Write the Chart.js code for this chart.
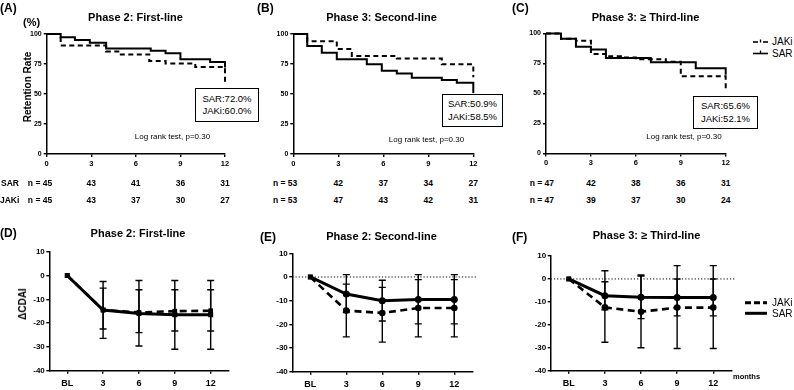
<!DOCTYPE html>
<html><head><meta charset="utf-8">
<script src="https://cdn.jsdelivr.net/npm/chart.js@4.4.1/dist/chart.umd.min.js"></script>
<style>
html,body{margin:0;padding:0;background:#fff;}
#root{position:relative;width:794px;height:390px;overflow:hidden;background:#fff;font-family:"Liberation Sans",Arial,sans-serif;color:#000;}
canvas{position:absolute;}
.t{position:absolute;white-space:nowrap;line-height:1;}
.box{position:absolute;border:1.5px solid #000;box-sizing:border-box;display:flex;flex-direction:column;justify-content:center;align-items:center;font-size:9.5px;line-height:12.5px;background:#fff;}
svg{position:absolute;}
</style></head><body><div id="root"></div>
<script>
// ---------------- DATA ----------------
const kmMonths = [0, 3, 6, 9, 12];
// Kaplan-Meier retention (%), step times in months
const A_SAR_t  = [0, 0.94, 1.9, 2.9, 4.0, 7.0, 8.0, 9.0, 11.0, 12.0];
const A_SAR_s  = [100, 97.2, 95, 92.8, 88, 86, 84, 79, 76.7, 72.0];
const A_JAKi_t = [0, 0.94, 4.0, 4.9, 6.9, 8.0, 10.0, 12.0];
const A_JAKi_s = [100, 90.5, 85.5, 83, 77.5, 75.5, 72.5, 60.0];
const B_SAR_t  = [0, 0.93, 1.9, 2.9, 4.9, 5.9, 6.9, 7.9, 9.9, 10.9, 12];
const B_SAR_s  = [100, 90, 84.4, 79, 74.7, 69.4, 67, 63.6, 61.7, 59.4, 50.9];
const B_JAKi_t = [0, 0.93, 2.9, 3.9, 6.9, 9.9, 12];
const B_JAKi_s = [100, 94, 87.5, 81.7, 79.5, 74.7, 64];
const C_SAR_t  = [0, 1, 2, 3, 4, 7, 10, 12];
const C_SAR_s  = [100, 95.6, 88.9, 86.7, 79.5, 76, 71, 65.6];
const C_JAKi_t = [0, 1, 2, 3, 4, 5, 6, 8, 9, 12];
const C_JAKi_s = [100, 95.6, 93.9, 83, 81, 80, 78.6, 76.4, 64.4, 52.1];
// numbers at risk
const A_risk_SAR = [45, 43, 41, 36, 31], A_risk_JAKi = [45, 43, 37, 30, 27];
const B_risk_SAR = [53, 42, 37, 34, 27], B_risk_JAKi = [53, 47, 43, 42, 31];
const C_risk_SAR = [47, 42, 38, 36, 31], C_risk_JAKi = [47, 39, 37, 30, 24];
// final retention labels
const A_final = ['SAR:72.0%', 'JAKi:60.0%'];
const B_final = ['SAR:50.9%', 'JAKi:58.5%'];
const C_final = ['SAR:65.6%', 'JAKi:52.1%'];
// Delta CDAI (mean, error bar low / high)
const visits = ['BL', '3', '6', '9', '12'];
const D_SAR = [0, -14.5, -16, -16.5, -16.5];
const D_SAR_lo = [null, -26.4, -29.6, -31, -31], D_SAR_hi = [null, -2.5, -2.1, -2.1, -2.1];
const D_JAKi = [0, -14.5, -15.5, -15, -14.8];
const D_JAKi_lo = [null, -22.5, -24, -23.3, -23.3], D_JAKi_hi = [null, -5.3, -6, -6, -6];
const E_SAR = [0, -7.2, -10, -9.5, -9.5];
const E_SAR_lo = [null, -15, -18.6, -19.8, -19.8], E_SAR_hi = [null, 1, -1.4, 1, 1];
const E_JAKi = [0, -14.2, -15.2, -13.1, -13.1];
const E_JAKi_lo = [null, -25.3, -27.5, -25.3, -25.3], E_JAKi_hi = [null, -3, -4.4, -1.1, -1.1];
const F_SAR = [0, -7.3, -8, -8.1, -8.1];
const F_SAR_lo = [null, -13.4, -17.3, -16.1, -16.1], F_SAR_hi = [null, -1.2, 1.3, 0, 0];
const F_JAKi = [0, -12.4, -14.3, -12.5, -12.5];
const F_JAKi_lo = [null, -27.6, -30, -30.3, -30.3], F_JAKi_hi = [null, 3.6, 1.7, 5.8, 5.8];

// ---------------- HELPERS ----------------
const root = document.getElementById('root');
const FONT = '"Liberation Sans", Arial, sans-serif';
const NARROW = '"Liberation Sans Narrow", "Liberation Sans", Arial, sans-serif';
function T(x, y, s, o = {}) {
  const d = document.createElement('div');
  d.className = 't';
  d.textContent = s;
  d.style.left = x + 'px'; d.style.top = y + 'px';
  d.style.fontSize = (o.size || 10) + 'px';
  if (o.bold) d.style.fontWeight = 'bold';
  if (o.family) d.style.fontFamily = o.family;
  const a = o.anchor || 'c';
  const tx = a === 'l' ? '0' : a === 'r' ? '-100%' : '-50%';
  d.style.transform = `translate(${tx},-50%)` + (o.rot ? ' rotate(-90deg)' : '');
  root.appendChild(d);
  return d;
}
function box(l, t, w, h, lines) {
  const d = document.createElement('div');
  d.className = 'box';
  d.style.left = l + 'px'; d.style.top = t + 'px'; d.style.width = w + 'px'; d.style.height = h + 'px';
  lines.forEach(s => { const e = document.createElement('div'); e.textContent = s; d.appendChild(e); });
  root.appendChild(d);
}
function mkCanvas(l, t, w, h) {
  const c = document.createElement('canvas');
  c.width = w; c.height = h;
  c.style.left = l + 'px'; c.style.top = t + 'px'; c.style.width = w + 'px'; c.style.height = h + 'px';
  root.appendChild(c);
  return c;
}
const errPlugin = {
  id: 'errbars',
  afterDatasetsDraw(chart) {
    const ctx = chart.ctx, xs = chart.scales.x, ys = chart.scales.y;
    chart.data.datasets.forEach(ds => {
      if (!ds.errLo) return;
      ds.errLo.forEach((lo, i) => {
        if (lo == null) return;
        const hi = ds.errHi[i];
        const x = xs.getPixelForValue(i);
        const y1 = ys.getPixelForValue(lo), y2 = ys.getPixelForValue(hi);
        ctx.save();
        ctx.strokeStyle = '#000'; ctx.lineWidth = 1.4; ctx.setLineDash([]);
        ctx.beginPath();
        ctx.moveTo(x, y1); ctx.lineTo(x, y2);
        ctx.moveTo(x - 3.5, y1); ctx.lineTo(x + 3.5, y1);
        ctx.moveTo(x - 3.5, y2); ctx.lineTo(x + 3.5, y2);
        ctx.stroke();
        ctx.restore();
      });
    });
  }
};
const zeroPlugin = {
  id: 'zeroline',
  beforeDatasetsDraw(chart, args, opts) {
    if (!opts || !opts.show) return;
    const ctx = chart.ctx, a = chart.chartArea, y = chart.scales.y.getPixelForValue(0);
    ctx.save();
    ctx.strokeStyle = '#000'; ctx.lineWidth = 1; ctx.setLineDash([1.2, 2]);
    ctx.beginPath(); ctx.moveTo(a.left, y); ctx.lineTo(a.right + (opts.extend || 0), y); ctx.stroke();
    ctx.restore();
  }
};
function axisCommon(size, tl, pad) {
  return {
    ticks: { color: '#000', font: { family: FONT, size: size, weight: 'bold' }, padding: pad, maxRotation: 0, autoSkip: false },
    grid: { display: true, drawOnChartArea: false, drawTicks: true, tickLength: tl, color: '#000', lineWidth: 1.4 },
    border: { display: true, color: '#000', width: 1.5 }
  };
}
function kmChart(g, sarT, sarS, jakT, jakS) {
  const c = mkCanvas(g.left, g.top, g.w, g.h);
  const xAx = axisCommon(7.5, 3, 2);
  const yAx = axisCommon(7, 3, 2);
  return new Chart(c, {
    type: 'line',
    data: {
      datasets: [
        { label: 'JAKi', data: jakT.map((t, i) => ({ x: t, y: jakS[i] })), stepped: true, borderColor: '#000', borderWidth: 2, borderDash: [5, 3.5], pointRadius: 0, clip: false },
        { label: 'SAR', data: sarT.map((t, i) => ({ x: t, y: sarS[i] })), stepped: true, borderColor: '#000', borderWidth: 2, pointRadius: 0, clip: false }
      ]
    },
    options: {
      responsive: false, animation: false, devicePixelRatio: 1,
      layout: { padding: { top: g.padT, right: g.padR, left: 0, bottom: 0 } },
      plugins: { legend: { display: false }, tooltip: { enabled: false } },
      scales: {
        x: Object.assign(xAx, { type: 'linear', min: 0, max: 12, afterBuildTicks(s) { s.ticks = kmMonths.map(v => ({ value: v })); }, afterFit(s) { s.height = g.xH; } }),
        y: Object.assign(yAx, { min: 0, max: 100, afterBuildTicks(s) { s.ticks = [0, 25, 50, 75, 100].map(v => ({ value: v })); }, afterFit(s) { s.width = g.yW; } })
      }
    }
  });
}
function cdaiChart(g, sar, sarLo, sarHi, jak, jakLo, jakHi, styles, zero) {
  const c = mkCanvas(g.left, g.top, g.w, g.h);
  const xAx = axisCommon(9, 3, 4);
  const yAx = axisCommon(8, 3, 1.5);
  return new Chart(c, {
    type: 'line',
    data: {
      labels: visits,
      datasets: [
        { label: 'JAKi', data: jak, errLo: jakLo, errHi: jakHi, borderColor: '#000', backgroundColor: '#000', borderWidth: 2.6, borderDash: [7, 4.5], pointStyle: styles, pointRadius: 3.3, pointBorderWidth: 0, clip: false },
        { label: 'SAR', data: sar, errLo: sarLo, errHi: sarHi, borderColor: '#000', backgroundColor: '#000', borderWidth: 3, pointStyle: styles, pointRadius: 3.5, pointBorderWidth: 0, clip: false }
      ]
    },
    plugins: [errPlugin, zeroPlugin],
    options: {
      responsive: false, animation: false, devicePixelRatio: 1,
      layout: { padding: { top: g.padT, right: g.padR, left: 0, bottom: 0 } },
      plugins: { legend: { display: false }, tooltip: { enabled: false }, zeroline: { show: zero, extend: 4 } },
      scales: {
        x: Object.assign(xAx, { type: 'category', offset: true, afterFit(s) { s.height = g.xH; } }),
        y: Object.assign(yAx, { min: -40, max: 10, afterBuildTicks(s) { s.ticks = [-40, -30, -20, -10, 0, 10].map(v => ({ value: v })); }, afterFit(s) { s.width = g.yW; } })
      }
    }
  });
}

// ---------------- TOP: KAPLAN-MEIER ----------------
const gA = { left: 0, top: 0, w: 240, h: 172, yW: 46.7, padT: 34, padR: 15, xH: 18 };
const gB = { left: 250, top: 0, w: 240, h: 172, yW: 43.3, padT: 34, padR: 16.7, xH: 18 };
const gC = { left: 505, top: 0, w: 240, h: 172, yW: 41, padT: 33.5, padR: 19.3, xH: 18.5 };
const chA = kmChart(gA, A_SAR_t, A_SAR_s, A_JAKi_t, A_JAKi_s);
const chB = kmChart(gB, B_SAR_t, B_SAR_s, B_JAKi_t, B_JAKi_s);
const chC = kmChart(gC, C_SAR_t, C_SAR_s, C_JAKi_t, C_JAKi_s);

T(0, 8, '(A)', { size: 12, bold: true, anchor: 'l' });
T(257, 8, '(B)', { size: 12, bold: true, anchor: 'l' });
T(512, 8, '(C)', { size: 12, bold: true, anchor: 'l' });
T(135.5, 16.5, 'Phase 2: First-line', { size: 11, bold: true });
T(381.5, 16.5, 'Phase 3: Second-line', { size: 11, bold: true });
T(645.5, 16.5, 'Phase 3: \u2265 Third-line', { size: 11, bold: true });
T(23, 22, '(%)', { size: 11, bold: true, anchor: 'l' });
T(27.5, 87, 'Retention Rate', { size: 10, bold: true, rot: true });

box(195, 88, 64, 34, A_final);
box(442, 94, 61, 33, B_final);
box(693, 96, 65, 33, C_final);
T(172.5, 137, 'Log rank test, p=0.30', { size: 8, family: NARROW });
T(426.5, 140, 'Log rank test, p=0.30', { size: 8, family: NARROW });
T(684, 136.7, 'Log rank test, p=0.30', { size: 8, family: NARROW });

// number at risk rows
function riskRow(ch, g, vals, y, firstOff) {
  const xs = ch.scales.x;
  kmMonths.forEach((m, i) => {
    const px = g.left + xs.getPixelForValue(m);
    if (i === 0) T(px + firstOff, y, 'n = ' + vals[i], { size: 8.5, bold: true, anchor: 'r' });
    else T(px, y, String(vals[i]), { size: 8.5, bold: true });
  });
}
riskRow(chA, gA, A_risk_SAR, 183, 5.5);
riskRow(chA, gA, A_risk_JAKi, 200, 5.5);
riskRow(chB, gB, B_risk_SAR, 183, 4);
riskRow(chB, gB, B_risk_JAKi, 200, 4);
riskRow(chC, gC, C_risk_SAR, 183, 8);
riskRow(chC, gC, C_risk_JAKi, 200, 8);
T(1, 183, 'SAR', { size: 8.5, bold: true, anchor: 'l' });
T(0, 200, 'JAKi', { size: 8.5, bold: true, anchor: 'l' });

// top legend
const sv1 = document.createElementNS('http://www.w3.org/2000/svg', 'svg');
sv1.setAttribute('width', 24); sv1.setAttribute('height', 24);
sv1.style.left = '750px'; sv1.style.top = '33px';
sv1.innerHTML = '<line x1="3" y1="9" x2="8" y2="9" stroke="#000" stroke-width="1.6"/>' +
  '<line x1="13" y1="9" x2="18" y2="9" stroke="#000" stroke-width="1.6"/>' +
  '<line x1="10.5" y1="6.5" x2="10.5" y2="9.5" stroke="#000" stroke-width="1.3"/>' +
  '<line x1="3" y1="20.5" x2="18" y2="20.5" stroke="#000" stroke-width="1.6"/>' +
  '<line x1="10.5" y1="17.5" x2="10.5" y2="20.5" stroke="#000" stroke-width="1.3"/>';
root.appendChild(sv1);
T(772, 42, 'JAKi', { size: 10, anchor: 'l' });
T(772, 53.5, 'SAR', { size: 10, anchor: 'l' });

// ---------------- BOTTOM: DELTA CDAI ----------------
const gD = { left: 0, top: 240, w: 245, h: 150, yW: 49.3, padT: 11.7, padR: 16.4, xH: 19.3 };
const gE = { left: 245, top: 240, w: 245, h: 150, yW: 47.3, padT: 13.3, padR: 17.7, xH: 18.3 };
const gF = { left: 500, top: 240, w: 245, h: 150, yW: 50.7, padT: 16, padR: 13.7, xH: 19.3 };
cdaiChart(gD, D_SAR, D_SAR_lo, D_SAR_hi, D_JAKi, D_JAKi_lo, D_JAKi_hi, 'rect', false);
cdaiChart(gE, E_SAR, E_SAR_lo, E_SAR_hi, E_JAKi, E_JAKi_lo, E_JAKi_hi, ['rect', 'circle', 'circle', 'circle', 'circle'], true);
cdaiChart(gF, F_SAR, F_SAR_lo, F_SAR_hi, F_JAKi, F_JAKi_lo, F_JAKi_hi, ['rect', 'circle', 'circle', 'circle', 'circle'], true);

T(0, 233, '(D)', { size: 12, bold: true, anchor: 'l' });
T(260, 237, '(E)', { size: 12, bold: true, anchor: 'l' });
T(512, 237, '(F)', { size: 12, bold: true, anchor: 'l' });
T(138, 233, 'Phase 2: First-line', { size: 11, bold: true });
T(381.5, 235.7, 'Phase 2: Second-line', { size: 11, bold: true });
T(646.5, 235, 'Phase 3: \u2265 Third-line', { size: 11, bold: true });
T(22.5, 304, '\u0394CDAI', { size: 10, bold: true, rot: true });
T(733, 377, 'months', { size: 7.5, bold: true, anchor: 'l', family: NARROW });

const sv2 = document.createElementNS('http://www.w3.org/2000/svg', 'svg');
sv2.setAttribute('width', 30); sv2.setAttribute('height', 24);
sv2.style.left = '740px'; sv2.style.top = '295px';
sv2.innerHTML = '<line x1="5" y1="7.7" x2="27" y2="7.7" stroke="#000" stroke-width="3" stroke-dasharray="6 3"/>' +
  '<line x1="5" y1="18.3" x2="27" y2="18.3" stroke="#000" stroke-width="3"/>';
root.appendChild(sv2);
T(772, 302.5, 'JAKi', { size: 10, anchor: 'l' });
T(772, 313.5, 'SAR', { size: 10, anchor: 'l' });
</script>
</body></html>
